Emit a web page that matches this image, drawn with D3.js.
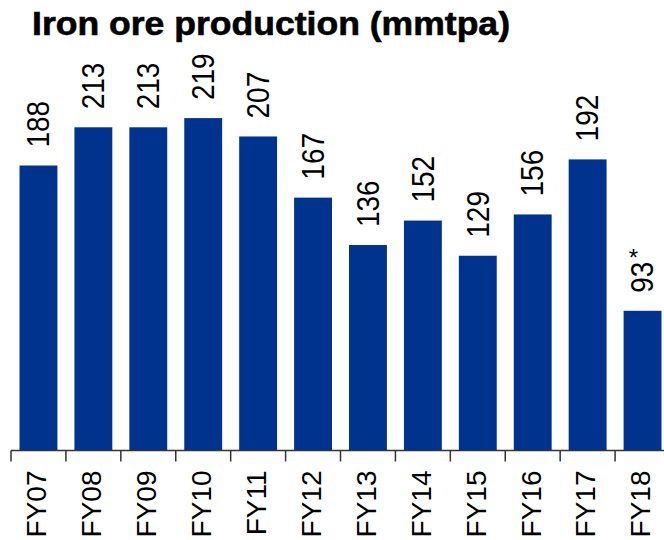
<!DOCTYPE html>
<html>
<head>
<meta charset="utf-8">
<script src="https://cdn.jsdelivr.net/npm/d3@7"></script>
<style>
  html, body { margin: 0; padding: 0; background: #fff; }
  svg { display: block; }
</style>
</head>
<body>
<svg id="chart" width="664" height="540"></svg>
<script>
// Iron ore production, million tonnes per annum
const years = ["FY07", "FY08", "FY09", "FY10", "FY11", "FY12", "FY13", "FY14", "FY15", "FY16", "FY17", "FY18"];
const production = [188, 213, 213, 219, 207, 167, 136, 152, 129, 156, 192, 93];
const notes = ["", "", "", "", "", "", "", "", "", "", "", "*"];
const titleText = "Iron ore production (mmtpa)";

const svg = d3.select("#chart");
const font = "'Liberation Sans', Arial, sans-serif";
const barColor = "#00338d";

const x = d3.scaleBand()
  .domain(years)
  .range([11, 670])
  .paddingInner(0.31)
  .paddingOuter(0.155);

const y = d3.scaleLinear()
  .domain([0, 240])
  .range([453, 86]);

const axisY = 450.5;

// Title
svg.append("text")
  .attr("x", 32)
  .attr("y", 35)
  .attr("font-family", font)
  .attr("font-weight", "bold")
  .attr("font-size", 32.5)
  .attr("textLength", 478)
  .attr("lengthAdjust", "spacingAndGlyphs")
  .attr("fill", "#000")
  .attr("stroke", "#000")
  .attr("stroke-width", 0.6)
  .text(titleText);

const rows = years.map((yr, i) => ({ yr, v: production[i], note: notes[i] }));

// Bars
svg.append("g").selectAll("rect")
  .data(rows)
  .join("rect")
  .attr("x", d => x(d.yr))
  .attr("y", d => y(d.v))
  .attr("width", x.bandwidth())
  .attr("height", d => axisY - y(d.v))
  .attr("fill", barColor);

// Value labels, rotated
svg.append("g").selectAll("text")
  .data(rows)
  .join("text")
  .attr("transform", d => `translate(${x(d.yr) + x.bandwidth() / 2},${y(d.v) - 18}) rotate(-90) scale(1,1.1)`)
  .attr("dy", "0.35em")
  .attr("text-anchor", "start")
  .attr("font-family", font)
  .attr("font-size", 28)
  .attr("fill", "#000")
  .text(d => d.v);

// Footnote markers
svg.append("g").selectAll("text")
  .data(rows.filter(d => d.note))
  .join("text")
  .attr("x", d => x(d.yr) + x.bandwidth() / 2 - 9)
  .attr("y", d => y(d.v) - 45)
  .attr("text-anchor", "middle")
  .attr("font-family", font)
  .attr("font-size", 24)
  .attr("fill", "#000")
  .text(d => d.note);

// Category axis
const axisG = svg.append("g").attr("transform", `translate(0,${axisY})`);
axisG.append("line")
  .attr("x1", 11).attr("x2", 664)
  .attr("stroke", "#333").attr("stroke-width", 1.5);

const step = x.step();
const boundaries = years.map(yr => x(yr) - step * x.paddingInner() / 2).concat([x(years[years.length - 1]) + x.bandwidth() + step * x.paddingInner() / 2]);
axisG.selectAll("line.tick")
  .data(boundaries)
  .join("line")
  .attr("class", "tick")
  .attr("x1", d => d).attr("x2", d => d)
  .attr("y1", 0).attr("y2", 11)
  .attr("stroke", "#333").attr("stroke-width", 1.5);

axisG.selectAll("text")
  .data(years)
  .join("text")
  .attr("transform", d => `translate(${x(d) + x.bandwidth() / 2 - 2},20) rotate(-90)`)
  .attr("dy", "0.35em")
  .attr("text-anchor", "end")
  .attr("font-family", font)
  .attr("font-size", 28)
  .attr("fill", "#000")
  .text(d => d);
</script>
</body>
</html>
